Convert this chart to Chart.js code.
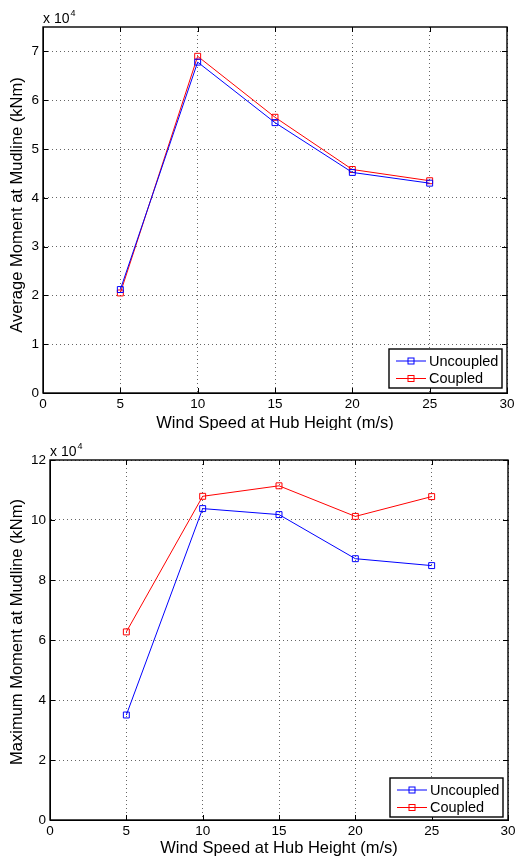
<!DOCTYPE html>
<html><head><meta charset="utf-8">
<script src="https://cdn.jsdelivr.net/npm/chart.js@4"></script>
<style>
body{margin:0;background:#fff;}
.w{position:absolute;left:0;width:515px;}
#w1{top:0;height:430px}
#w2{top:430px;height:431px}
</style></head><body>
<div class="w" id="w1"><canvas id="c1" width="515" height="430"></canvas></div>
<div class="w" id="w2"><canvas id="c2" width="515" height="431"></canvas></div>
<script>
// ---- data (kNm) ----
const windSpeeds   = [5, 10, 15, 20, 25];
const avgUncoupled = [21200, 67800, 55400, 45200, 43000];
const avgCoupled   = [20500, 69000, 56500, 45800, 43500];
const maxUncoupled = [35000, 103800, 101800, 87100, 84800];
const maxCoupled   = [62700, 107900, 111400, 101200, 107800];
const seriesNames  = ['Uncoupled', 'Coupled'];
const xTicks    = [0, 5, 10, 15, 20, 25, 30];
const avgYTicks = [0, 10000, 20000, 30000, 40000, 50000, 60000, 70000];
const maxYTicks = [0, 20000, 40000, 60000, 80000, 100000, 120000];
const xTitle = 'Wind Speed at Hub Height (m/s)';
const avgYTitle = 'Average Moment at Mudline (kNm)';
const maxYTitle = 'Maximum Moment at Mudline (kNm)';

const FONT = '"Liberation Sans", Arial, Helvetica, sans-serif';
const BLUE = '#0000ff', RED = '#ff0000';

function pts(xs, ys){ return xs.map((x,i)=>({x:x, y:ys[i]})); }

function ds(label, color, data){
  return {label, data, borderColor:color, backgroundColor:color, borderWidth:1,
    showLine:true, pointStyle:'rect', pointRadius:4.2, pointHoverRadius:4.2,
    pointBorderWidth:1, pointBackgroundColor:'rgba(0,0,0,0)', pointBorderColor:color, tension:0};
}

function matlabPlugin(o){
  return {id:'matlab', afterDraw(chart){
    const {ctx, chartArea:a, scales:{x, y}} = chart;
    ctx.save();
    // inward ticks
    ctx.strokeStyle = '#000'; ctx.lineWidth = 1;
    ctx.beginPath();
    x.ticks.forEach(t=>{ const p = Math.round(x.getPixelForValue(t.value))+0.5;
      ctx.moveTo(p, a.bottom); ctx.lineTo(p, a.bottom-5);
      ctx.moveTo(p, a.top); ctx.lineTo(p, a.top+5); });
    y.ticks.forEach(t=>{ const p = Math.round(y.getPixelForValue(t.value))+0.5;
      ctx.moveTo(a.left, p); ctx.lineTo(a.left+5, p);
      ctx.moveTo(a.right, p); ctx.lineTo(a.right-5, p); });
    ctx.stroke();
    // frame
    ctx.lineWidth = 1.4;
    ctx.strokeRect(a.left, a.top, a.right-a.left, a.bottom-a.top);
    // exponent label
    ctx.fillStyle = '#000';
    ctx.textAlign = 'left'; ctx.textBaseline = 'alphabetic';
    ctx.font = '14px ' + FONT;
    ctx.fillText('x 10', a.left, a.top - 4);
    const w = ctx.measureText('x 10').width;
    ctx.font = '9px ' + FONT;
    ctx.fillText('4', a.left + w + 1, a.top - 11);
    // axis titles
    ctx.font = '16.5px ' + FONT;
    ctx.textAlign = 'center';
    ctx.fillText(xTitle, (a.left + a.right)/2, a.bottom + o.xTitleDy);
    ctx.save();
    ctx.translate(o.yTitleX, (a.top + a.bottom)/2 + o.yTitleDy);
    ctx.rotate(-Math.PI/2);
    ctx.textBaseline = 'middle';
    ctx.fillText(o.yTitle, 0, 0);
    ctx.restore();
    // legend
    const lw = 113, lh = 39;
    const lx = a.right - 5 - lw, ly = a.bottom - o.legBottom - lh;
    ctx.fillStyle = '#fff';
    ctx.fillRect(lx, ly, lw, lh);
    ctx.lineWidth = 1.4; ctx.strokeStyle = '#000';
    ctx.strokeRect(lx, ly, lw, lh);
    const colors = [BLUE, RED];
    seriesNames.forEach((name, i)=>{
      const cy = ly + 11.5 + i*17.5;
      ctx.strokeStyle = colors[i]; ctx.lineWidth = 1;
      ctx.beginPath(); ctx.moveTo(lx+7, cy+0.5); ctx.lineTo(lx+37, cy+0.5); ctx.stroke();
      ctx.strokeRect(lx+19, cy-2.5, 6, 6);
      ctx.fillStyle = '#000'; ctx.font = '14.5px ' + FONT;
      ctx.textAlign = 'left'; ctx.textBaseline = 'middle';
      ctx.fillText(name, lx+40, cy+1);
    });
    ctx.restore();
  }};
}

function makeChart(id, d1, d2, yTicks, yMax, o){
  return new Chart(document.getElementById(id), {
    type:'scatter',
    data:{datasets:[ds(seriesNames[0], BLUE, d1), ds(seriesNames[1], RED, d2)]},
    options:{
      responsive:false, animation:false, devicePixelRatio:1,
      layout:{padding:{top:o.padTop, right:o.padRight, left:0, bottom:0}},
      plugins:{legend:{display:false}, tooltip:{enabled:false}},
      scales:{
        x:{type:'linear', min:0, max:30,
          afterBuildTicks:s=>{ s.ticks = xTicks.map(v=>({value:v})); },
          afterFit:s=>{ s.height = o.xAxisH; s.paddingLeft = 0; s.paddingRight = 0; },
          grid:{color:'rgba(0,0,0,0.6)', lineWidth:1, drawTicks:false},
          border:{display:true, color:'#000', dash:[1,3]},
          ticks:{color:'#000', font:{family:FONT, size:13.5}, padding:3, maxRotation:0, autoSkip:false}
        },
        y:{type:'linear', min:0, max:yMax,
          afterBuildTicks:s=>{ s.ticks = yTicks.map(v=>({value:v})); },
          afterFit:s=>{ s.width = o.yAxisW; s.paddingTop = 0; s.paddingBottom = 0; },
          grid:{color:'rgba(0,0,0,0.6)', lineWidth:1, drawTicks:false},
          border:{display:true, color:'#000', dash:[1,3]},
          ticks:{color:'#000', font:{family:FONT, size:13.5}, padding:4, autoSkip:false,
            callback:v=>String(v/10000)}
        }
      }
    },
    plugins:[matlabPlugin(o)]
  });
}

const c1 = makeChart('c1', pts(windSpeeds, avgUncoupled), pts(windSpeeds, avgCoupled), avgYTicks, 75000,
  {padTop:27, padRight:8, xAxisH:37, yAxisW:43, xTitleDy:35, yTitleX:17, yTitleDy:-5, yTitle:avgYTitle, legBottom:5});
const c2 = makeChart('c2', pts(windSpeeds, maxUncoupled), pts(windSpeeds, maxCoupled), maxYTicks, 120000,
  {padTop:30, padRight:7, xAxisH:41, yAxisW:50, xTitleDy:33, yTitleX:17, yTitleDy:-8, yTitle:maxYTitle, legBottom:3});
</script>
</body></html>
